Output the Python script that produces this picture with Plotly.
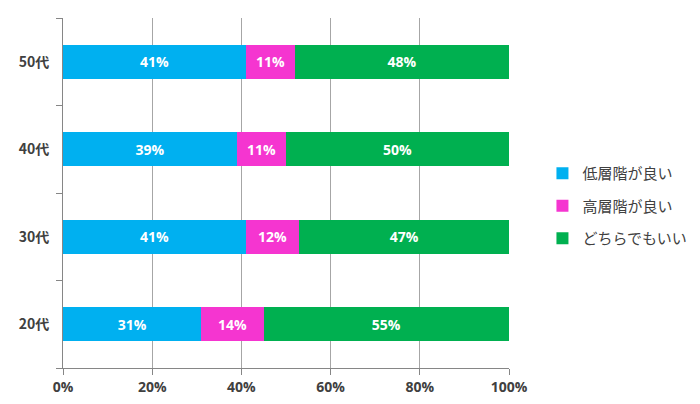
import plotly.graph_objects as go

categories = ["20代", "30代", "40代", "50代"]
series_names = ["低層階が良い", "高層階が良い", "どちらでもいい"]
low_floor = [31, 41, 39, 41]
high_floor = [14, 12, 11, 11]
either = [55, 47, 50, 48]
colors = ["#00B0F0", "#F535D0", "#00B050"]
x_ticks = [0, 20, 40, 60, 80, 100]

fig = go.Figure()
for i, (name, vals) in enumerate(zip(series_names, [low_floor, high_floor, either])):
    fig.add_trace(go.Bar(
        y=categories, x=vals, name=name, orientation="h",
        marker=dict(color=colors[i], line=dict(width=0)),
        text=[f"<b>{v}%</b>" for v in vals], textposition="inside",
        insidetextanchor="middle",
        textfont=dict(color="white", size=14, family="Open Sans, Noto Sans CJK JP"),
        width=0.39, legendgroup=f"g{i}",
    ))

fig.update_layout(
    barmode="stack",
    width=700, height=404,
    margin=dict(l=63, r=191, t=18, b=36, autoexpand=False),
    plot_bgcolor="white", paper_bgcolor="white",
    font=dict(family="Noto Sans CJK JP", color="#404040"),
    uniformtext=dict(mode="show", minsize=10),
    legend=dict(x=1.075, y=0.463, xanchor="left", yanchor="middle",
                traceorder="grouped", tracegroupgap=10, itemwidth=30,
                font=dict(size=15, color="#404040", family="Noto Sans CJK JP")),
    xaxis=dict(range=[0, 100], tickvals=x_ticks, ticktext=[f"<b>{v}%</b>" for v in x_ticks],
               showgrid=True, gridcolor="#A6A6A6", gridwidth=1,
               showline=True, linecolor="#868686", linewidth=1,
               ticks="outside", ticklen=6, tickcolor="#868686",
               tickfont=dict(size=14, color="#404040", family="Open Sans"),
               zeroline=False, fixedrange=True),
    yaxis=dict(type="category", range=[-0.5, 3.5],
               tickvals=categories, ticktext=[f"<b>{c}</b>" for c in categories],
               showline=True, linecolor="#868686", linewidth=1,
               ticks="outside", ticklen=6, tickcolor="#868686", tickson="boundaries",
               tickfont=dict(size=14, color="#404040", family="Noto Sans CJK JP"),
               showgrid=False, ticklabelstandoff=10),
)

fig.write_html("out.html")
